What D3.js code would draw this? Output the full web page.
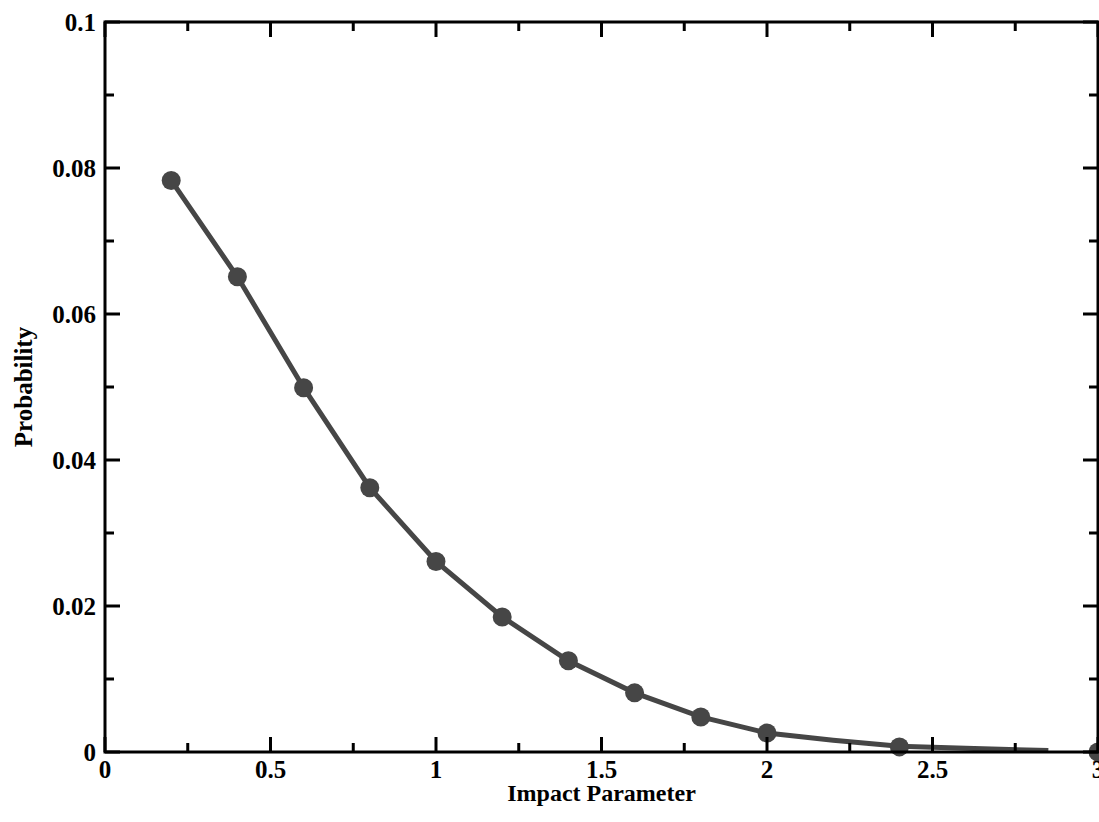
<!DOCTYPE html>
<html lang="en">
<head>
    <meta charset="UTF-8">
    <title>Impact Parameter</title>
    <script src="https://cdn.jsdelivr.net/npm/d3@7/dist/d3.min.js"></script>
    <style>
        body { margin: 0; background: #fff; }
        text { font-family: "Liberation Serif", "Times New Roman", serif; font-weight: bold; fill: #000; }
    </style>
</head>
<body>
<script>
    // canvas size
    const width = 1099;
    const height = 822;

    // line data
    const impact = [0.2, 0.4, 0.6, 0.8, 1.0, 1.2, 1.4, 1.6, 1.8, 2.0, 2.2, 2.4, 2.6, 2.85];
    const prob = [0.0783, 0.0651, 0.0499, 0.0362, 0.0261, 0.0185, 0.0125, 0.0081, 0.0048, 0.0026, 0.0016, 0.0008, 0.0005, 0.0002];

    // markers
    const markX = [0.2, 0.4, 0.6, 0.8, 1.0, 1.2, 1.4, 1.6, 1.8, 2.0, 2.4, 3.0];
    const markY = [0.0783, 0.0651, 0.0499, 0.0362, 0.0261, 0.0185, 0.0125, 0.0081, 0.0048, 0.0026, 0.0007, 0.0];

    // ticks
    const xMajor = [0, 0.5, 1, 1.5, 2, 2.5, 3];
    const xMinor = [0.25, 0.75, 1.25, 1.75, 2.25, 2.75];
    const yMajor = [0, 0.02, 0.04, 0.06, 0.08, 0.1];
    const yMinor = [0.01, 0.03, 0.05, 0.07, 0.09];
    const xLabels = ['0', '0.5', '1', '1.5', '2', '2.5', '3'];
    const yLabels = ['0', '0.02', '0.04', '0.06', '0.08', '0.1'];

    const padL = 105, padR = 1098, padT = 22, padB = 752;
    const grey = '#464646';

    let svg = d3.select('body')
        .append('svg')
        .attr('width', width)
        .attr('height', height);

    let x = d3.scaleLinear().domain([0, 3]).range([padL, padR]);
    let y = d3.scaleLinear().domain([0, 0.1]).range([padB, padT]);

    // data line
    let line = d3.line()
        .x(d => x(d[0]))
        .y(d => y(d[1]));

    svg.append('path')
        .datum(impact.map((v, i) => [v, prob[i]]))
        .attr('fill', 'none')
        .attr('stroke', grey)
        .attr('stroke-width', 5)
        .attr('d', line);

    svg.selectAll('circle')
        .data(markX.map((v, i) => [v, markY[i]]))
        .enter()
        .append('circle')
        .attr('cx', d => x(d[0]))
        .attr('cy', d => y(d[1]))
        .attr('r', 9.5)
        .attr('fill', grey);

    // ticks, inward on all four sides
    const tickW = 3;
    function xticks(vals, len) {
        vals.forEach(v => {
            svg.append('line').attr('x1', x(v)).attr('x2', x(v))
                .attr('y1', padB).attr('y2', padB - len)
                .attr('stroke', '#000').attr('stroke-width', tickW);
            svg.append('line').attr('x1', x(v)).attr('x2', x(v))
                .attr('y1', padT).attr('y2', padT + len)
                .attr('stroke', '#000').attr('stroke-width', tickW);
        });
    }
    function yticks(vals, len) {
        vals.forEach(v => {
            svg.append('line').attr('x1', padL).attr('x2', padL + len)
                .attr('y1', y(v)).attr('y2', y(v))
                .attr('stroke', '#000').attr('stroke-width', tickW);
            svg.append('line').attr('x1', padR).attr('x2', padR - len)
                .attr('y1', y(v)).attr('y2', y(v))
                .attr('stroke', '#000').attr('stroke-width', tickW);
        });
    }
    xticks(xMajor, 15);
    xticks(xMinor, 9);
    yticks(yMajor, 15);
    yticks(yMinor, 9);

    // frame
    svg.append('rect')
        .attr('x', padL).attr('y', padT)
        .attr('width', padR - padL).attr('height', padB - padT)
        .attr('fill', 'none')
        .attr('stroke', '#000')
        .attr('stroke-width', 3);

    // tick labels
    svg.selectAll('.xl')
        .data(xMajor)
        .enter()
        .append('text')
        .attr('x', d => x(d))
        .attr('y', 778)
        .attr('text-anchor', 'middle')
        .attr('font-size', 25)
        .text((d, i) => xLabels[i]);

    svg.selectAll('.yl')
        .data(yMajor)
        .enter()
        .append('text')
        .attr('x', 96)
        .attr('y', d => y(d) + 9)
        .attr('text-anchor', 'end')
        .attr('font-size', 25)
        .text((d, i) => yLabels[i]);

    // axis titles
    svg.append('text')
        .attr('x', (padL + padR) / 2)
        .attr('y', 801)
        .attr('text-anchor', 'middle')
        .attr('font-size', 24)
        .text('Impact Parameter');

    svg.append('text')
        .attr('transform', `translate(32, ${(padT + padB) / 2}) rotate(-90)`)
        .attr('text-anchor', 'middle')
        .attr('font-size', 25)
        .text('Probability');
</script>
</body>
</html>
